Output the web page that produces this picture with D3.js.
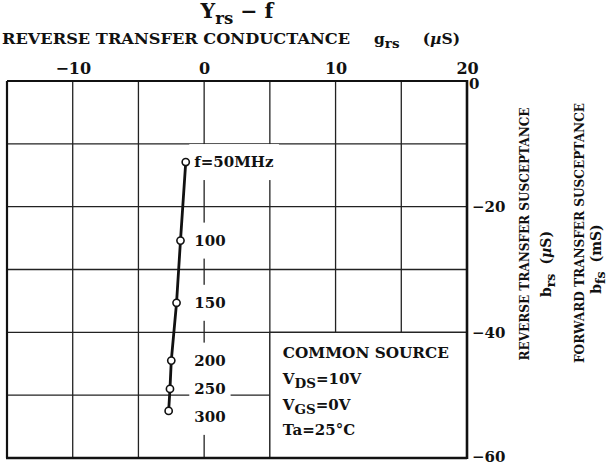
<!DOCTYPE html>
<html>
<head>
<meta charset="utf-8">
<script src="https://cdn.jsdelivr.net/npm/d3@7"></script>
<style>
  body { margin: 0; background: #fff; }
  text { font-family: "DejaVu Serif", "Liberation Serif", serif; font-weight: bold; fill: #111; }
</style>
</head>
<body>
<svg id="chart" width="607" height="466"></svg>
<script>
// values (g_rs, b_rs in uS)
const freqLabels = ["f=50MHz", "100", "150", "200", "250", "300"];
const grs = [-1.4, -1.8, -2.1, -2.5, -2.6, -2.7];
const brs = [-12.9, -25.4, -35.3, -44.5, -49.0, -52.5];

const xTicks = [-10, 0, 10, 20];
const yTicks = [0, -20, -40, -60];
const xGrid = [-10, -5, 0, 5, 10, 15];
const yGrid = [-10, -20, -30, -40, -50];

const legendLines = ["COMMON SOURCE", ["V", "DS", "=10V"], ["V", "GS", "=0V"], ["Ta=25°C"]];

const svg = d3.select("#chart");
const pL = 7, pR = 467, pT = 81, pB = 458;

const x = d3.scaleLinear().domain([-15, 20]).range([pL, pR]);
const y = d3.scaleLinear().domain([0, -60]).range([pT, pB]);

// grid
const grid = svg.append("g").attr("stroke", "#222").attr("stroke-width", 1.3);
grid.selectAll(".vx").data(xGrid).enter().append("line")
  .attr("x1", d => x(d)).attr("x2", d => x(d))
  .attr("y1", pT).attr("y2", pB);
grid.selectAll(".hy").data(yGrid).enter().append("line")
  .attr("x1", pL).attr("x2", pR)
  .attr("y1", d => y(d)).attr("y2", d => y(d));

// legend box sits in the lower-right cells
svg.append("rect")
  .attr("x", x(5)).attr("y", y(-40))
  .attr("width", x(20) - x(5)).attr("height", y(-60) - y(-40))
  .attr("fill", "#fff").attr("stroke", "#222").attr("stroke-width", 1.3);

const leg = svg.append("g").attr("font-size", 15);
legendLines.forEach((ln, i) => {
  const t = leg.append("text").attr("x", x(5) + 13).attr("y", y(-40) + 26 + i * 25.7);
  if (typeof ln === "string") { t.text(ln).attr("textLength", 166).attr("lengthAdjust", "spacingAndGlyphs"); return; }
  t.append("tspan").text(ln[0]);
  if (ln.length > 1) {
    t.append("tspan").attr("dy", 4).attr("font-size", 13.5).text(ln[1]);
    t.append("tspan").attr("dy", -4).text(ln[2]);
  }
});

// frequency labels, with white pads that break the grid like the print
const lab = [];
let prev = -1e9;
grs.forEach((g, i) => {
  let py = Math.max(y(brs[i]), prev + 28);
  prev = py;
  lab.push({ t: freqLabels[i], x: x(-0.75), y: py });
});
const labG = svg.append("g").attr("font-size", 15);
const labT = labG.selectAll("text").data(lab).enter().append("text")
  .attr("x", d => d.x).attr("y", d => d.y + 5)
  .text(d => d.t);
labT.each(function(d) {
  const b = this.getBBox();
  labG.insert("rect", "text")
    .attr("x", b.x - 5).attr("y", b.y - 9)
    .attr("width", b.width + 10).attr("height", b.height + 18)
    .attr("fill", "#fff");
});

// frame
const frame = svg.append("g").attr("stroke", "#111").attr("fill", "none");
frame.append("line").attr("x1", pL).attr("x2", pR).attr("y1", pT).attr("y2", pT).attr("stroke-width", 2.2);
frame.append("line").attr("x1", pL).attr("x2", pL).attr("y1", pT).attr("y2", pB).attr("stroke-width", 2.2);
frame.append("line").attr("x1", pR).attr("x2", pR).attr("y1", pT - 1).attr("y2", pB + 1).attr("stroke-width", 2.6);
frame.append("line").attr("x1", pL - 1).attr("x2", pR).attr("y1", pB).attr("y2", pB).attr("stroke-width", 2.6);

// curve
const line = d3.line().x((d, i) => x(grs[i])).y((d, i) => y(brs[i]));
svg.append("path").datum(brs).attr("d", line)
  .attr("fill", "none").attr("stroke", "#111").attr("stroke-width", 2.8);
svg.selectAll(".pt").data(brs).enter().append("circle")
  .attr("cx", (d, i) => x(grs[i])).attr("cy", d => y(d)).attr("r", 3.6)
  .attr("fill", "#fff").attr("stroke", "#111").attr("stroke-width", 1.6);

// top axis
const topAx = svg.append("g").attr("transform", `translate(0,${pT})`)
  .call(d3.axisTop(x).tickValues(xTicks).tickSize(0).tickPadding(7)
    .tickFormat(d => d < 0 ? "\u2212" + Math.abs(d) : d));
topAx.select(".domain").remove();
topAx.selectAll("text").attr("font-family", null).attr("font-size", 16).attr("fill", "#111");

// right axis
const rAx = svg.append("g").attr("transform", `translate(${pR},0)`)
  .call(d3.axisRight(y).tickValues(yTicks).tickSize(0).tickPadding(5)
    .tickFormat(d => d < 0 ? "\u2212" + Math.abs(d) : d));
rAx.select(".domain").remove();
rAx.selectAll("text").attr("font-family", null).attr("font-size", 15).attr("fill", "#111")
  .attr("dx", d => d === 0 ? -3 : 0)
  .attr("dy", d => d === 0 ? "0.5em" : d === -60 ? "0.25em" : "0.32em");

// titles
const title = svg.append("text").attr("x", 237).attr("y", 18)
  .attr("text-anchor", "middle").attr("font-size", 20.5);
title.append("tspan").text("Y");
title.append("tspan").attr("dy", 6).attr("font-size", 16.5).text("rs");
title.append("tspan").attr("dy", -6).text(" \u2212 f");

const sub = svg.append("g").attr("font-size", 15.5);
sub.append("text").attr("x", 2).attr("y", 44).attr("textLength", 348)
  .attr("lengthAdjust", "spacingAndGlyphs").text("REVERSE TRANSFER CONDUCTANCE");
const gs = sub.append("text").attr("x", 374).attr("y", 44);
gs.append("tspan").text("g");
gs.append("tspan").attr("dy", 4).attr("font-size", 13.5).text("rs");
const us = sub.append("text").attr("x", 460).attr("y", 44).attr("text-anchor", "end");
us.append("tspan").text("(");
us.append("tspan").attr("font-style", "italic").text("\u00b5");
us.append("tspan").text("S)");

function sideTitle(cx, cy, len, main, sym, subs, unit, cx2, cy2) {
  const g = svg.append("g").attr("font-size", 13.5);
  g.append("text").attr("transform", `translate(${cx},${cy}) rotate(-90)`)
    .attr("text-anchor", "middle").attr("textLength", len)
    .attr("lengthAdjust", "spacingAndGlyphs").text(main);
  const t = g.append("text").attr("transform", `translate(${cx2},${cy2}) rotate(-90)`)
    .attr("text-anchor", "middle").attr("font-size", 14);
  t.append("tspan").text(sym);
  t.append("tspan").attr("dy", 3.5).attr("font-size", 12.5).text(subs);
  t.append("tspan").attr("dy", -3.5).attr("dx", 9).text("(");
  t.append("tspan").attr("font-style", unit[1] ? "italic" : null).text(unit[0]);
  t.append("tspan").text("S)");
}
sideTitle(529, 234, 253, "REVERSE TRANSFER SUSCEPTANCE", "b", "rs", ["\u00b5", true], 551, 264);
sideTitle(584, 233, 260, "FORWARD TRANSFER SUSCEPTANCE", "b", "fs", ["m", false], 601, 259);
</script>
</body>
</html>
